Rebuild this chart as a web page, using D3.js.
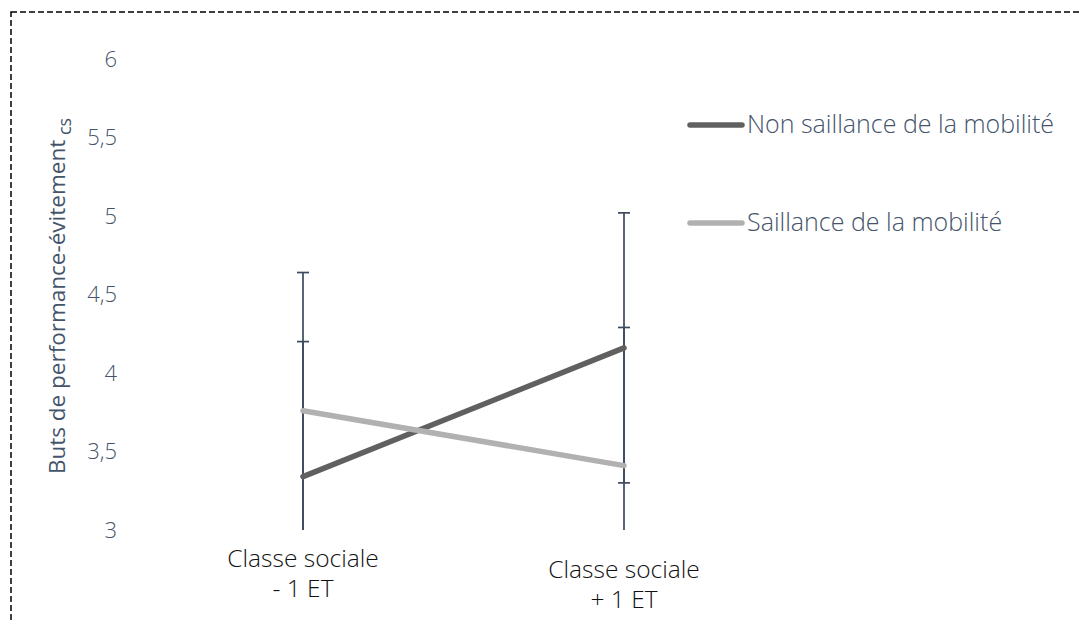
<!DOCTYPE html>
<html>
<head>
<meta charset="utf-8">
<script src="https://cdn.jsdelivr.net/npm/d3@7"></script>
<style>
  body { margin: 0; background: #fff; }
  svg { display: block; font-family: "Open Sans", sans-serif; }
</style>
</head>
<body>
<script>
// data
const categories = ["Classe sociale\n- 1 ET", "Classe sociale\n+ 1 ET"];
const seriesNames = ["Non saillance de la mobilité", "Saillance de la mobilité"];
const nonSaillance = [3.34, 4.16];
const saillance = [3.76, 3.41];
const errNonSaillance = [0.86, 0.86];
const errSaillance = [0.88, 0.88];
const yTicks = [3, 3.5, 4, 4.5, 5, 5.5, 6];

const W = 1082, H = 622;
const colors = ["#606060", "#b1b1b1"];
const textColor = "#44546a";

const svg = d3.select("body").append("svg")
  .attr("width", W)
  .attr("height", H);

// dashed frame
svg.append("rect")
  .attr("x", 11)
  .attr("y", 12)
  .attr("width", W + 20)
  .attr("height", H + 20)
  .attr("fill", "none")
  .attr("stroke", "#000")
  .attr("stroke-width", 1.5)
  .attr("stroke-dasharray", "6,3");

// scales
const x = d3.scalePoint()
  .domain(categories)
  .range([303, 624]);

const y = d3.scaleLinear()
  .domain([3, 6])
  .range([530, 59]);

// y axis (labels only)
const yAxis = svg.append("g")
  .attr("transform", "translate(117,0)")
  .call(d3.axisLeft(y).tickValues(yTicks).tickSize(0).tickPadding(0)
    .tickFormat(d => String(d).replace(".", ",")));
yAxis.select(".domain").remove();
yAxis.selectAll("text")
  .attr("fill", textColor)
  .style("font-size", "22px")
  .style("font-weight", 300)
  .style("font-family", "'Open Sans', sans-serif");

// y axis title
const title = svg.append("text")
  .attr("transform", "translate(65,296) rotate(-90)")
  .attr("text-anchor", "middle")
  .attr("fill", textColor)
  .style("font-size", "22.5px");
title.append("tspan").text("Buts de performance-évitement");
title.append("tspan").attr("dy", 6).style("font-size", "18px").text(" cs");

// x category labels
const catOffset = [0, 11];
categories.forEach((c, i) => {
  const lines = c.split("\n");
  const t = svg.append("text")
    .attr("x", x(c))
    .attr("y", 567 + catOffset[i])
    .attr("text-anchor", "middle")
    .attr("fill", "#111")
    .style("font-size", "24.5px")
    .style("font-weight", 300);
  lines.forEach((l, j) => {
    t.append("tspan").attr("x", x(c)).attr("dy", j === 0 ? 0 : 30).text(l);
  });
});

const series = [
  { name: seriesNames[0], values: nonSaillance, err: errNonSaillance, color: colors[0] },
  { name: seriesNames[1], values: saillance, err: errSaillance, color: colors[1] }
];

// error bars (clipped to the plot range)
const [yMin, yMax] = y.domain();
const clip = v => Math.max(yMin, Math.min(yMax, v));
series.forEach(s => {
  const g = svg.append("g").attr("stroke", "#3d4b5f").attr("stroke-width", 1.7);
  categories.forEach((c, i) => {
    const hi = s.values[i] + s.err[i];
    const lo = s.values[i] - s.err[i];
    g.append("line")
      .attr("x1", x(c)).attr("x2", x(c))
      .attr("y1", y(clip(hi))).attr("y2", y(clip(lo)));
    [hi, lo].forEach(v => {
      if (v <= yMax && v > yMin) {
        g.append("line")
          .attr("x1", x(c) - 6).attr("x2", x(c) + 6)
          .attr("y1", y(v)).attr("y2", y(v));
      }
    });
  });
});

// lines
const line = d3.line()
  .x((d, i) => x(categories[i]))
  .y(d => y(d));

series.forEach(s => {
  svg.append("path")
    .datum(s.values)
    .attr("d", line)
    .attr("fill", "none")
    .attr("stroke", s.color)
    .attr("stroke-width", 5.5)
    .attr("stroke-linecap", "round");
});

// legend
const legend = svg.append("g");
series.forEach((s, i) => {
  const ly = 125 + i * 98;
  legend.append("line")
    .attr("x1", 690).attr("x2", 742)
    .attr("y1", ly).attr("y2", ly)
    .attr("stroke", s.color)
    .attr("stroke-width", 5.5)
    .attr("stroke-linecap", "round");
  legend.append("text")
    .attr("x", 747)
    .attr("y", ly + 8)
    .attr("fill", textColor)
    .style("font-size", "25px")
    .style("font-weight", 300)
    .text(s.name);
});
</script>
</body>
</html>
